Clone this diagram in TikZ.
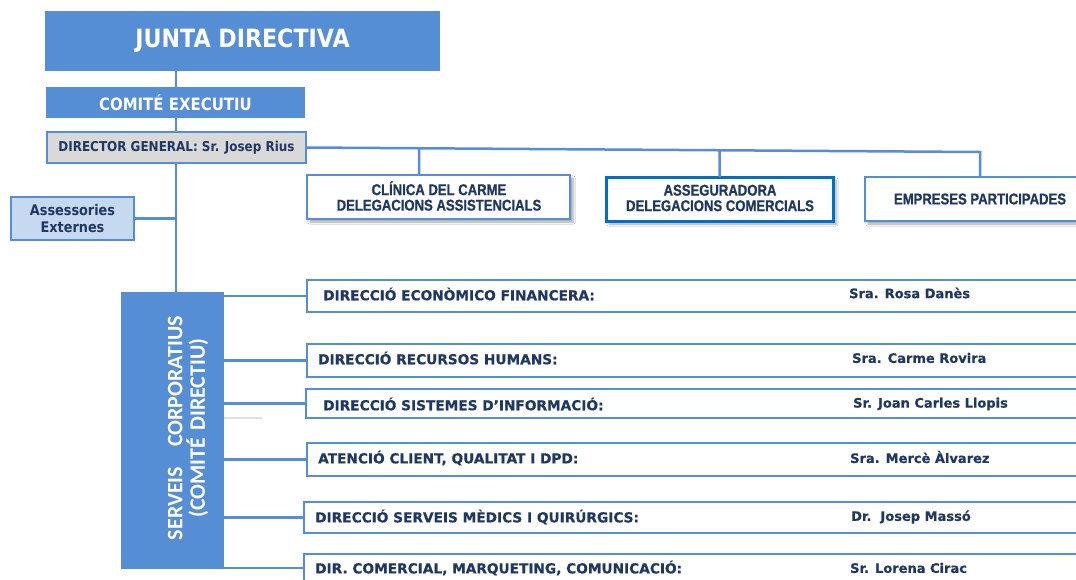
\documentclass[tikz,border=0pt]{standalone}
\usepackage{fontspec}
\setmainfont{DejaVu Sans}
\newfontfamily\verdb[FakeBold=0.5]{DejaVu Sans Bold}
\newfontfamily\tah[FakeStretch=0.88]{DejaVu Sans}
\newfontfamily\narrowf[FakeStretch=0.84,FakeBold=0.8]{Liberation Sans Bold}
\newfontfamily\carl{Carlito}
\usetikzlibrary{shadows.blur,calc}
\definecolor{mblue}{HTML}{558ED5}
\definecolor{dblue}{HTML}{0070C0}
\definecolor{navy}{HTML}{1F3763}
\definecolor{lgray}{HTML}{D9D9D9}
\definecolor{lblue}{HTML}{C6D9F1}
\tikzset{
  solidbox/.style={fill=mblue, draw=none, inner sep=0pt, outer sep=0pt, text=white, anchor=north west},
  framebox/.style={draw=mblue, line width=2.5pt, fill=white, inner sep=0pt, outer sep=0pt, anchor=north west},
  topbox/.style={framebox, blur shadow={shadow xshift=3pt, shadow yshift=-3pt, shadow blur steps=6, shadow opacity=35}},
  conn/.style={draw=mblue, line width=2.5pt},
  lab/.style={inner sep=0pt, text=navy, anchor=west, font=\verdb\fontsize{13.7}{16}\selectfont},
  nam/.style={inner sep=0pt, text=navy, anchor=west, font=\verdb\fontsize{13}{16}\selectfont},
  toptxt/.style={inner sep=0pt, text=navy, align=center, font=\narrowf\fontsize{15.6}{15.5}\selectfont},
}
\begin{document}
\begin{tikzpicture}[x=1pt,y=-1pt]
\clip (0,0) rectangle (1076,579);
\fill[white] (0,0) rectangle (1076,579);

% top hierarchy
\node[solidbox, minimum width=395pt, minimum height=60pt,
      font=\tah\bfseries\fontsize{25.2}{28}\selectfont] (junta) at (45,11) {JUNTA DIRECTIVA};
\node[solidbox, minimum width=259pt, minimum height=31pt,
      font=\tah\bfseries\fontsize{17}{20}\selectfont] (comite) at (46,87) {COMITÉ EXECUTIU};
\node[framebox, fill=lgray, line width=2pt, minimum width=259pt, minimum height=31pt, text=navy,
      font=\tah\bfseries\fontsize{13.6}{16}\selectfont] (director) at (47,132) {DIRECTOR GENERAL: Sr. Josep Rius};
\node[framebox, fill=lblue, line width=2pt, minimum width=123pt, minimum height=43pt, text=navy, align=center,
      font=\tah\bfseries\fontsize{14.6}{17.5}\selectfont] (assess) at (11,197) {Assessories\\Externes};

% Serveis corporatius
\node[solidbox, minimum width=103pt, minimum height=277pt] (serveis) at (121,292) {};
\node[rotate=90, align=center, text=white, inner sep=0pt,
      font=\carl\bfseries\fontsize{22}{22.5}\selectfont] (servtxt) at (188,428)
  {SERVEIS\hspace{20pt}CORPORATIUS\\(COMITÉ\hspace{7pt}DIRECTIU)};
\coordinate (trunk) at (176,292);

% top-right units
\node[topbox, minimum width=263pt, minimum height=44pt] (clinic) at (307,175) {};
\node[toptxt] (clinictxt) at (439,196) {CLÍNICA DEL CARME\\DELEGACIONS ASSISTENCIALS};
\node[topbox, draw=dblue, line width=3pt, minimum width=227pt, minimum height=44pt] (asseg) at (606,177) {};
\node[toptxt] (assegtxt) at (720,198) {ASSEGURADORA\\DELEGACIONS COMERCIALS};
\node[topbox, minimum width=230pt, minimum height=44pt] (empr) at (865,177) {};
\node[toptxt] (emprtxt) at (980,199) {EMPRESES PARTICIPADES};

% direction boxes
\node[framebox, minimum width=800pt, minimum height=32pt] (d1) at (307,280) {};
\node[framebox, minimum width=800pt, minimum height=33pt] (d2) at (307,344) {};
\node[framebox, minimum width=800pt, minimum height=29pt] (d3) at (306,389) {};
\node[framebox, minimum width=800pt, minimum height=33pt] (d4) at (307,443) {};
\node[framebox, minimum width=800pt, minimum height=31pt] (d5) at (304,502) {};
\node[framebox, minimum width=800pt, minimum height=28pt] (d6) at (304,554) {};

\node[lab] (l1) at (323,294) {DIRECCIÓ ECONÒMICO FINANCERA:};
\node[lab] (l2) at (318,358) {DIRECCIÓ RECURSOS HUMANS:};
\node[lab] (l3) at (323,404) {DIRECCIÓ SISTEMES D’INFORMACIÓ:};
\node[lab] (l4) at (318,458) {ATENCIÓ CLIENT, QUALITAT I DPD:};
\node[lab] (l5) at (315,517) {DIRECCIÓ SERVEIS MÈDICS I QUIRÚRGICS:};
\node[lab] (l6) at (315,568) {DIR. COMERCIAL, MARQUETING, COMUNICACIÓ:};

\node[nam] (n1) at (849,293) {Sra. Rosa Danès};
\node[nam] (n2) at (852,358) {Sra. Carme Rovira};
\node[nam] (n3) at (853,404) {Sr. Joan Carles Llopis};
\node[nam] (n4) at (850,457) {Sra. Mercè Àlvarez};
\node[nam] (n5) at (851,517) {Dr.\ \ Josep Massó};
\node[nam] (n6) at (850,568) {Sr. Lorena Cirac};

% connectors
\draw[conn] (junta.south -| trunk) -- (comite.north -| trunk);
\draw[conn] (comite.south -| trunk) -- (director.north -| trunk);
\draw[conn] (director.south -| trunk) -- (trunk);
\draw[conn] (assess.east) -- (assess.east -| trunk);

\coordinate (hend) at (980,152);
\coordinate (cdrop) at ($(clinic.north west)!0.426!(clinic.north east)$);
\draw[conn] (director.east) -- (hend) -- (empr.north);
\draw[conn] (cdrop) -- ($(director.east)!(cdrop)!(hend)$);
\draw[conn] (asseg.north) -- ($(director.east)!(asseg.north)!(hend)$);

\foreach \d in {d1,d2,d3,d4,d5}{
  \draw[conn] (serveis.east |- \d.west) -- (\d.west);
}
\draw[conn] (serveis.east |- 0,568) -- (d6.west |- 0,568);

% faint mark
\draw[black!12, line width=1.5pt] (224,418) -- (262,418);
\end{tikzpicture}
\end{document}
